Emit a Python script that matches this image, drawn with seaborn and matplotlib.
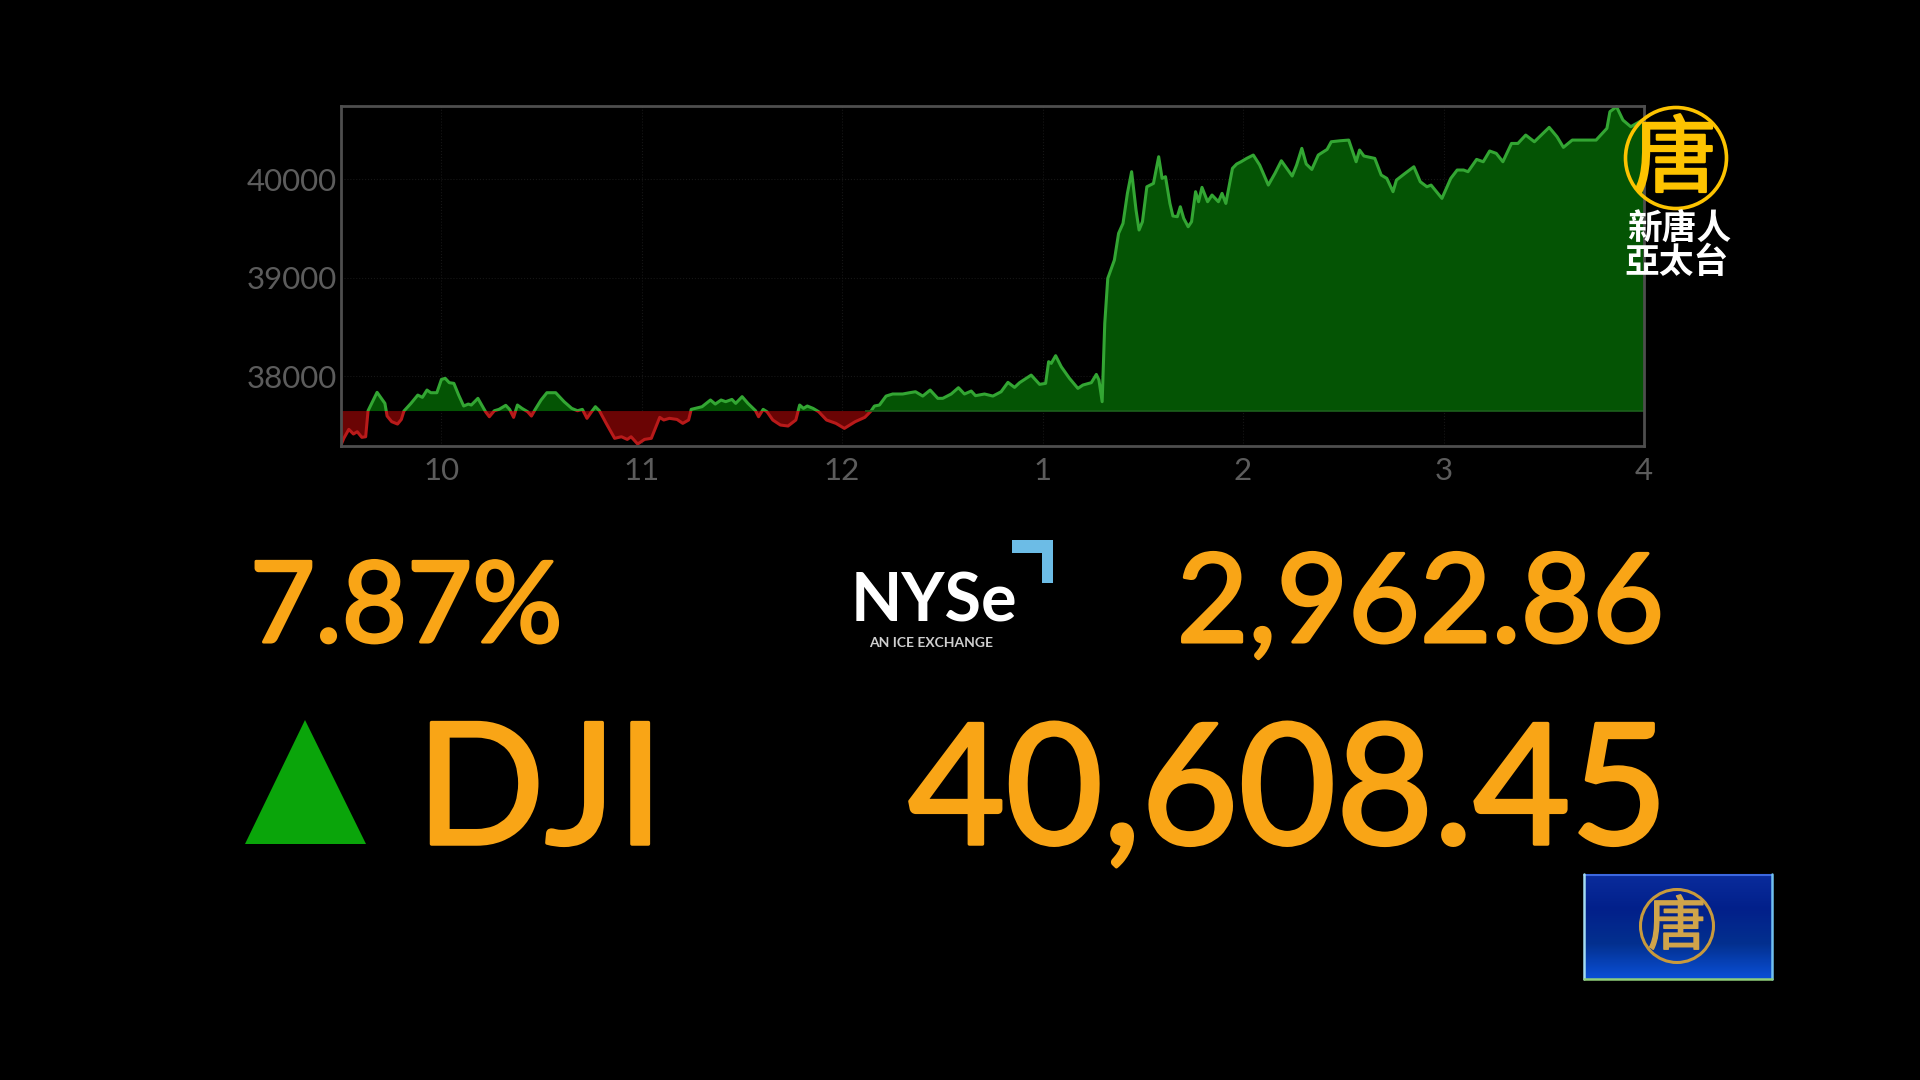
import numpy as np
import pandas as pd
import seaborn as sns
import matplotlib.pyplot as plt
import matplotlib.patheffects as pe
from matplotlib.colors import LinearSegmentedColormap
from matplotlib.patches import Circle, Polygon, Rectangle

# hours of the trading day (13.5 = 1:30pm) and index level
hours = [9.5, 9.514, 9.539, 9.562, 9.581, 9.604, 9.623, 9.635, 9.657, 9.68, 9.705, 9.719, 9.73, 9.753, 9.782,
         9.801, 9.814, 9.849, 9.883, 9.906, 9.929, 9.948, 9.978, 10.001, 10.02, 10.04, 10.063, 10.087, 10.112,
         10.135, 10.15, 10.183, 10.202, 10.221, 10.24, 10.265, 10.288, 10.322, 10.341, 10.361, 10.38, 10.403,
         10.431, 10.45, 10.469, 10.498, 10.527, 10.571, 10.613, 10.651, 10.68, 10.704, 10.727, 10.75, 10.769,
         10.789, 10.823, 10.865, 10.899, 10.928, 10.947, 10.98, 11.014, 11.048, 11.09, 11.11, 11.138, 11.176,
         11.205, 11.234, 11.247, 11.301, 11.343, 11.367, 11.396, 11.419, 11.45, 11.469, 11.501, 11.53, 11.568,
         11.583, 11.606, 11.625, 11.654, 11.692, 11.73, 11.769, 11.788, 11.807, 11.826, 11.855, 11.883, 11.922,
         11.969, 12.011, 12.065, 12.113, 12.144, 12.161, 12.186, 12.219, 12.252, 12.302, 12.336, 12.366, 12.402,
         12.439, 12.477, 12.502, 12.544, 12.58, 12.61, 12.644, 12.665, 12.71, 12.752, 12.793, 12.827, 12.86,
         12.885, 12.943, 12.985, 13.015, 13.03, 13.043, 13.065, 13.093, 13.134, 13.176, 13.201, 13.243, 13.268,
         13.281, 13.297, 13.31, 13.325, 13.358, 13.379, 13.401, 13.423, 13.444, 13.466, 13.481, 13.498, 13.52,
         13.553, 13.579, 13.596, 13.613, 13.635, 13.65, 13.672, 13.687, 13.704, 13.726, 13.743, 13.763, 13.778,
         13.795, 13.823, 13.845, 13.877, 13.895, 13.914, 13.947, 13.968, 13.99, 14.018, 14.051, 14.083, 14.126,
         14.159, 14.191, 14.245, 14.267, 14.293, 14.315, 14.343, 14.375, 14.419, 14.44, 14.484, 14.527, 14.564,
         14.581, 14.603, 14.657, 14.689, 14.717, 14.748, 14.765, 14.808, 14.852, 14.884, 14.917, 14.938, 14.992,
         15.036, 15.068, 15.1, 15.122, 15.165, 15.198, 15.23, 15.263, 15.296, 15.339, 15.371, 15.41, 15.453,
         15.527, 15.566, 15.598, 15.642, 15.707, 15.761, 15.815, 15.83, 15.863, 15.895, 15.934, 15.977, 16.0]
dow = [37300, 37368, 37459, 37412, 37435, 37378, 37384, 37648, 37740, 37835, 37763, 37723, 37594, 37537, 37513,
       37560, 37645, 37723, 37807, 37784, 37858, 37831, 37831, 37966, 37977, 37933, 37926, 37807, 37696,
       37716, 37706, 37774, 37706, 37638, 37587, 37648, 37662, 37703, 37662, 37581, 37706, 37672,
       37638, 37594, 37662, 37757, 37831, 37831, 37740, 37672, 37648, 37662, 37571, 37638, 37689,
       37648, 37520, 37368, 37384, 37357, 37384, 37310, 37357, 37368, 37581, 37554, 37571, 37560,
       37520, 37554, 37662, 37689, 37757, 37716, 37757, 37740, 37763, 37723, 37791, 37723, 37648,
       37587, 37662, 37638, 37554, 37503, 37493, 37554, 37706, 37672, 37696, 37672, 37638, 37554,
       37520, 37469, 37537, 37581, 37645, 37696, 37706, 37797, 37818, 37818, 37831, 37841, 37797,
       37858, 37774, 37774, 37818, 37882, 37818, 37848, 37801, 37818, 37797, 37841, 37936, 37885,
       37933, 38010, 37916, 37926, 38146, 38129, 38207, 38095, 37977, 37875, 37909, 37933, 38017,
       37960, 37740, 38535, 38992, 39178, 39449, 39550, 39855, 40075, 39686, 39483, 39567, 39922,
       39956, 40227, 40007, 40024, 39753, 39625, 39618, 39719, 39601, 39516, 39567, 39872, 39770,
       39916, 39770, 39838, 39770, 39855, 39753, 40109, 40153, 40176, 40210, 40244, 40142, 39939,
       40058, 40186, 40031, 40142, 40312, 40153, 40098, 40244, 40301, 40379, 40389, 40396, 40176,
       40295, 40234, 40210, 40041, 40007, 39872, 39990, 40058, 40125, 39973, 39922, 39939, 39804,
       40007, 40092, 40092, 40075, 40200, 40176, 40285, 40261, 40176, 40362, 40362, 40447, 40379,
       40525, 40430, 40322, 40396, 40396, 40396, 40515, 40684, 40735, 40599, 40532, 40582, 40608]
prev_close = 37645
x_ticks = [10, 11, 12, 13, 14, 15, 16]
x_labels = ["10", "11", "12", "1", "2", "3", "4"]
y_ticks = [38000, 39000, 40000]
y_labels = ["38000", "39000", "40000"]

ORANGE = "#f9a516"
GREY = "#5c5c5c"
GOLD = "#fdc300"

sns.set_theme(style="dark", rc={"figure.facecolor": "black", "axes.facecolor": "black"})
plt.rcParams["font.family"] = ["Lato", "Noto Sans CJK TC", "DejaVu Sans"]

df = pd.DataFrame({"hour": hours, "dow": dow})
x = np.array(hours)
y = np.array(dow)

fig = plt.figure(figsize=(19.2, 10.8), dpi=100)
ax = fig.add_axes([341 / 1920, 1 - 446.5 / 1080, 1303 / 1920, 340.5 / 1080])
ax.set_xlim(9.5, 16)
ax.set_ylim(37285, 40742)

ax.fill_between(x, prev_close, y, where=y >= prev_close, interpolate=True, color="#045404", lw=0, zorder=2)
ax.fill_between(x, prev_close, y, where=y <= prev_close, interpolate=True, color="#6a0404", lw=0, zorder=2)

# same line twice, each colour clipped to its side of the previous close
sns.lineplot(data=df, x="hour", y="dow", estimator=None, color="#33a633", lw=2.2, ax=ax, zorder=3)
ax.lines[-1].set_clip_path(Rectangle((9.5, prev_close), 6.5, 4000, transform=ax.transData))
sns.lineplot(data=df, x="hour", y="dow", estimator=None, color="#b81a1a", lw=2.2, ax=ax, zorder=3)
ax.lines[-1].set_clip_path(Rectangle((9.5, 37000), 6.5, prev_close - 37000, transform=ax.transData))
ax.hlines(prev_close, x[y < prev_close][-1], 16, color="#1c5f1c", lw=1.2, zorder=3)

ax.set_xticks(x_ticks, x_labels)
ax.set_yticks(y_ticks, y_labels)
ax.set_xlabel("")
ax.set_ylabel("")
ax.tick_params(length=0, labelsize=22.5, labelcolor=GREY)
ax.tick_params(axis="x", pad=7.5)
ax.tick_params(axis="y", pad=3)
ax.grid(True, color="#161616", lw=0.8, ls=":", zorder=1)
for side, spine in ax.spines.items():
    spine.set_visible(True)
    spine.set_color("#4e4e4e")
    spine.set_linewidth(2.0)
    spine.set_zorder(4)

# everything below the chart is placed in screen pixels
ov = fig.add_axes([0, 0, 1, 1], zorder=5)
ov.set_xlim(0, 1920)
ov.set_ylim(1080, 0)
ov.axis("off")
ov.patch.set_alpha(0)

# regular Lato is too thin and bold too heavy, so thicken regular with a stroke
thick_big = [pe.withStroke(linewidth=2.5, foreground=ORANGE)]
thick_small = [pe.withStroke(linewidth=2.2, foreground=ORANGE)]
ov.text(250, 642, "7.87%", color=ORANGE, fontsize=81, ha="left", va="baseline", path_effects=thick_small)
ov.text(1664, 642, "2,962.86", color=ORANGE, fontsize=89, ha="right", va="baseline", path_effects=thick_small)
ov.text(416, 844, "DJI", color=ORANGE, fontsize=122, ha="left", va="baseline", path_effects=thick_big)
ov.text(1668, 844, "40,608.45", color=ORANGE, fontsize=121, ha="right", va="baseline", path_effects=thick_big)
ov.add_patch(Polygon([(245, 844), (305, 720), (366, 844)], color="#0aa50a", lw=0))

# NYSE logo
ov.text(851, 622, "NYSe", color="white", fontsize=48, fontweight="bold", ha="left", va="baseline")
ov.text(931, 647, "AN ICE EXCHANGE", color="#cfcfcf", fontsize=10, fontweight="bold", ha="center", va="baseline")
ov.add_patch(Polygon([(1012, 540), (1053, 540), (1053, 583), (1042, 583), (1042, 553), (1012, 553)],
                     color="#6cbce6", lw=0))

# station logo, top right
ov.add_patch(Circle((1676, 158), 50.5, fill=False, ec=GOLD, lw=2.6))
ov.text(1675, 161, "唐", color=GOLD, fontsize=60, ha="center", va="center", family=["Noto Sans CJK TC"],
        path_effects=[pe.withStroke(linewidth=1.6, foreground=GOLD)])
ov.text(1679, 229, "新唐人", color="white", fontsize=25, fontweight="bold", ha="center", va="center",
        family=["Noto Sans CJK TC"])
ov.text(1676, 263, "亞太台", color="white", fontsize=25, fontweight="bold", ha="center", va="center",
        family=["Noto Sans CJK TC"])

# blue box, bottom right
box_cmap = LinearSegmentedColormap.from_list("box", ["#0a2c9c", "#02208a", "#03308f", "#0a4fd6"])
ov.imshow(np.linspace(0, 1, 100).reshape(-1, 1), extent=(1584, 1772, 979, 874), cmap=box_cmap, aspect="auto", zorder=1)
ov.set_xlim(0, 1920)
ov.set_ylim(1080, 0)
ov.plot([1584, 1772], [875, 875], color="#3c68e0", lw=1.5, zorder=2)
ov.plot([1584, 1584], [874, 979], color="#a4dcf0", lw=1.8, zorder=2)
ov.plot([1772, 1772], [874, 979], color="#70c0f0", lw=1.8, zorder=2)
ov.plot([1584, 1772], [979, 979], color="#8fce7a", lw=1.8, zorder=2)
ov.add_patch(Circle((1677, 926), 36.5, fill=False, ec="#c89a3c", lw=2.2, zorder=3))
ov.text(1677, 928, "唐", color="#d0a44a", fontsize=42, ha="center", va="center", family=["Noto Sans CJK TC"],
        path_effects=[pe.withStroke(linewidth=1.0, foreground="#d0a44a")], zorder=3)

fig.savefig("out.png", dpi=100, facecolor="black")
